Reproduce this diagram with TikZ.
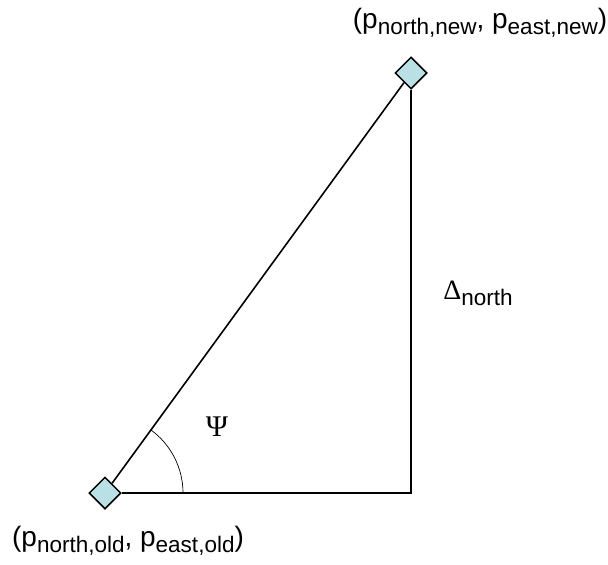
\documentclass[tikz,border=0pt]{standalone}
\usepackage{fontspec}
\setmainfont{Liberation Sans}
\newfontfamily\serifgreek{Liberation Serif}
\usetikzlibrary{shapes.geometric}

\definecolor{stationfill}{RGB}{185,224,228}
\newcommand{\lowsub}[1]{\raisebox{-6pt}{\fontsize{22.5}{24}\selectfont #1}}

\begin{document}
\begin{tikzpicture}[x=1pt, y=-1pt,
    station/.style={diamond, draw, line width=1.5pt, fill=stationfill, inner sep=0pt, minimum width=32pt, minimum height=32pt},
    leg/.style={line width=1.6pt},
    lbl/.style={font=\fontsize{28}{32}\selectfont, inner sep=0pt}]
                \useasboundingbox (0,0) rectangle (608,565);

                % Old and new positions
                \node[station] (old) at (105,493) {};
                \node[station] (new) at (411,73) {};
                \coordinate (corner) at (411,493);

                % Triangle
                \draw[leg] (old) -- (corner) -- (new);
                \draw[leg] (old) -- (new);

                % Heading angle
                \draw[line width=0.7pt] (old.center) ++(0:78) arc (0:-54:78);
                \node[lbl, font=\serifgreek\fontsize{30}{32}\selectfont] (psi) at (217,427) {Ψ};

                % Labels
                \node[lbl] (newlabel) at (480,23) {(p\lowsub{north,new}, p\lowsub{east,new})};
                \node[lbl] (oldlabel) at (128,541) {(p\lowsub{north,old}, p\lowsub{east,old})};
                \node[lbl] (dnorth) at (478,293) {{\serifgreek Δ}\lowsub{north}};
            \end{tikzpicture}
\end{document}
